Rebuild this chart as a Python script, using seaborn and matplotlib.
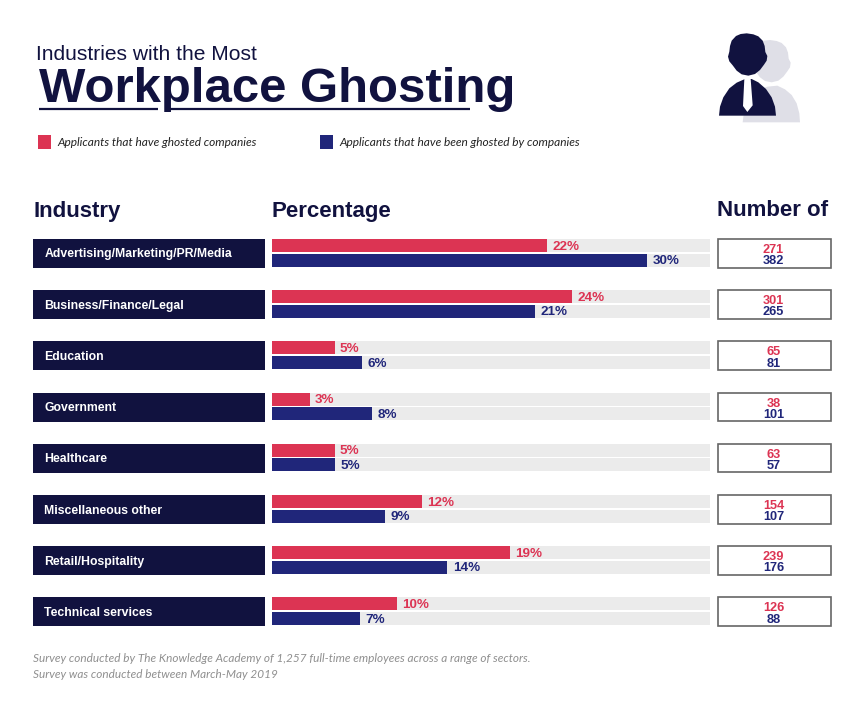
import matplotlib
matplotlib.use("Agg")
import matplotlib.pyplot as plt
from matplotlib.patches import Rectangle, Polygon
import pandas as pd
import seaborn as sns

industries = ["Advertising/Marketing/PR/Media", "Business/Finance/Legal", "Education", "Government",
              "Healthcare", "Miscellaneous other", "Retail/Hospitality", "Technical services"]
ghosted_companies = [22, 24, 5, 3, 5, 12, 19, 10]
ghosted_by_companies = [30, 21, 7.2, 8, 5, 9, 14, 7]
labels_companies = ["22%", "24%", "5%", "3%", "5%", "12%", "19%", "10%"]
labels_by = ["30%", "21%", "6%", "8%", "5%", "9%", "14%", "7%"]
count_companies = [271, 301, 65, 38, 63, 154, 239, 126]
count_by = [382, 265, 81, 101, 57, 107, 176, 88]
track_max = 35
series_a = "Applicants that have ghosted companies"
series_b = "Applicants that have been ghosted by companies"

NAVY = "#11123f"; RED = "#dc3453"; BLUE = "#20267a"; TRACK = "#ebebeb"
sans = "Liberation Sans"; ital = "Lato"

sns.set_theme(style="white")
plt.rcParams["font.family"] = [sans, "DejaVu Sans"]

W, H = 860, 710
fig = plt.figure(figsize=(W/100, H/100), dpi=100, facecolor="white")

bg = fig.add_axes([0, 0, 1, 1]); bg.set_xlim(0, W); bg.set_ylim(H, 0); bg.axis("off")

df = pd.DataFrame({
    "industry": industries * 2,
    "series": [series_a] * 8 + [series_b] * 8,
    "value": ghosted_companies + ghosted_by_companies,
    "track": [track_max] * 16,
})

PITCH = 51.2; TOP = 252.8 - PITCH / 2
ax = fig.add_axes([272/W, 1 - (TOP + 8*PITCH)/H, 438/W, 8*PITCH/H])
ax.patch.set_alpha(0)
sns.barplot(df, y="industry", x="track", hue="series", palette=[TRACK, TRACK], width=0.566, gap=0.1,
            legend=False, ax=ax, saturation=1, linewidth=0)
n = len(ax.containers)
sns.barplot(df, y="industry", x="value", hue="series", palette=[RED, BLUE], width=0.566, gap=0.1,
            legend=False, ax=ax, saturation=1, linewidth=0)
la = ax.bar_label(ax.containers[n], labels=labels_companies, padding=3.5, color=RED, fontsize=9.7, fontweight="bold")
lb = ax.bar_label(ax.containers[n+1], labels=labels_by, padding=4, color=BLUE, fontsize=9.7, fontweight="bold")
for t in list(la) + list(lb):
    t.xyann = (t.xyann[0], t.xyann[1] - 0.8)
ax.set_xlim(0, track_max); ax.set_ylim(7.5, -0.5)
ax.axis("off")

for i, name in enumerate(industries):
    y0 = 239 + i * PITCH
    bg.add_patch(Rectangle((33, y0), 232, 29, fc=NAVY, ec="none"))
    bg.text(44.5, y0 + 18.5, name, color="white", fontsize=8.85, fontweight="bold", va="baseline")
    bg.add_patch(Rectangle((717.5, y0), 113, 28.5, fc="white", ec="#666666", lw=1.2))
    bg.text(773.5, y0 + 14, str(count_companies[i]), color=RED, fontsize=9.2, fontweight="bold", ha="center", va="baseline")
    bg.text(773.5, y0 + 25.2, str(count_by[i]), color=BLUE, fontsize=9.2, fontweight="bold", ha="center", va="baseline")

for x, t in [(33.5, "Industry"), (271.5, "Percentage"), (717, "Number of")]:
    bg.text(x, 216.5, t, color=NAVY, fontsize=16, fontweight="bold", va="baseline")

bg.text(36, 60.5, "Industries with the Most", color=NAVY, fontsize=15.1, va="baseline")
bg.text(39, 102.5, "Workplace Ghosting", color=NAVY, fontsize=35.4, fontweight="bold", va="baseline")
bg.plot([39, 158], [108.5, 108.5], color=NAVY, lw=1.6, solid_capstyle="butt")
bg.plot([169, 470], [108.5, 108.5], color=NAVY, lw=1.6, solid_capstyle="butt")

bg.add_patch(Rectangle((38, 135), 13, 14, fc=RED, ec="none"))
bg.text(57.5, 142, series_a, color="#222222", fontsize=8.6, style="italic", family=ital, va="center")
bg.add_patch(Rectangle((320, 135), 13, 14, fc=BLUE, ec="none"))
bg.text(339, 142, series_b, color="#222222", fontsize=8.6, style="italic", family=ital, va="center")

# icon, outlined in pixels of a 3x crop with origin at (690, 20)
def icon(points, dx=0, dy=0, **kw):
    bg.add_patch(Polygon([(690 + (x + dx) / 3, 20 + (y + dy) / 3) for x, y in points], ec="none", **kw))

head = [(125, 62), (138, 48), (152, 42), (170, 40), (190, 43), (205, 49), (218, 62), (224, 78), (226, 96),
        (232, 108), (230, 122), (222, 134), (210, 150), (195, 162), (175, 167), (155, 163), (140, 152),
        (128, 136), (118, 124), (114, 110), (118, 95), (120, 78)]
G = "#dfdfe7"
icon(head, 70, 20, fc=G)
icon([(158, 307), (162, 275), (175, 240), (200, 212), (232, 200), (262, 197), (285, 208), (305, 225), (320, 250),
      (328, 280), (330, 307)], fc=G)
icon(head, fc=NAVY, zorder=3)
icon([(87, 287), (90, 260), (100, 232), (118, 205), (140, 188), (165, 177), (185, 177), (205, 187), (228, 207),
      (245, 232), (255, 260), (258, 287)], fc=NAVY, zorder=3)
icon([(163, 177), (182, 177), (188, 256), (172, 276), (159, 258)], fc="white", zorder=4)

bg.text(33, 659, "Survey conducted by The Knowledge Academy of 1,257 full-time employees across a range of sectors.",
        color="#8f8f8f", fontsize=8.5, style="italic", family=ital, va="center")
bg.text(33, 674, "Survey was conducted between March-May 2019", color="#8f8f8f", fontsize=8.5, style="italic", family=ital, va="center")

fig.savefig("out.png", dpi=100)
